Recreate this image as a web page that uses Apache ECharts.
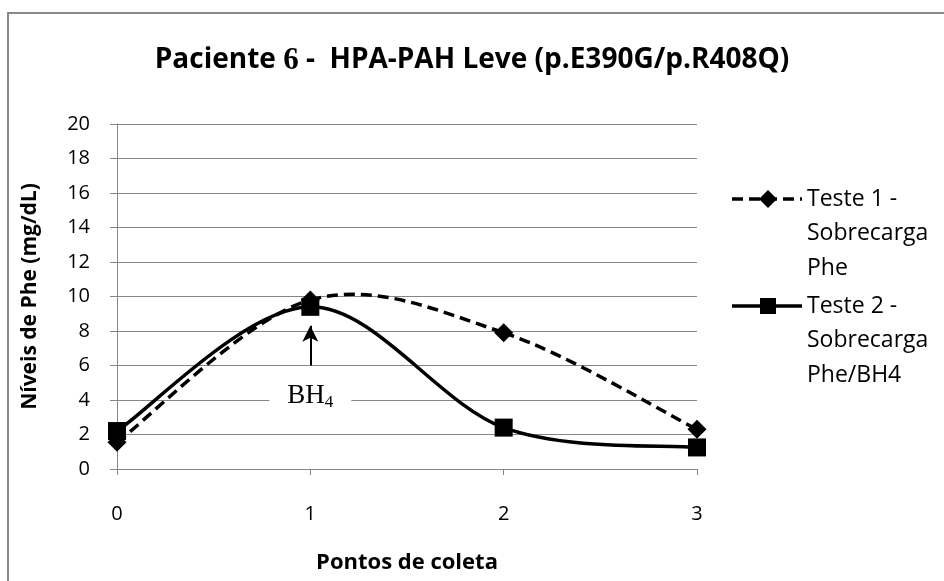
<!DOCTYPE html>
<html><head><meta charset="utf-8">
<script src="https://cdn.jsdelivr.net/npm/echarts@6/dist/echarts.min.js"></script>
<style>html,body{margin:0;padding:0;background:#fff}#c{width:944px;height:581px}</style>
</head><body><div id="c"></div>
<script>
const xPoints = [0, 1, 2, 3];
const teste1 = [1.55, 9.8, 7.9, 2.3];
const teste2 = [2.2, 9.4, 2.4, 1.25];
const yTicks = [0, 20, 2];
const seriesNames = ['Teste 1 - Sobrecarga Phe', 'Teste 2 - Sobrecarga Phe/BH4'];
const legendLines1 = ['Teste 1 -', 'Sobrecarga', 'Phe'];
const legendLines2 = ['Teste 2 -', 'Sobrecarga', 'Phe/BH4'];
const arrowFrom = [1, 6.0];
const arrowTo = [1, 8.3];
const bh4At = [1, 4.25];

const font = 'Open Sans';
const chart = echarts.init(document.getElementById('c'), null, {renderer: 'canvas'});

function pairs(vals) { return xPoints.map((x, i) => [x, vals[i]]); }

// Smoothed curve (Catmull-Rom style, as spreadsheet "smoothed line") drawn through the axes' coord system
function smoothRender(vals, dash) {
  return function (params, api) {
    const i = params.dataIndex;
    if (i >= vals.length - 1) return null;
    const P = k => [xPoints[Math.max(0, Math.min(vals.length - 1, k))], vals[Math.max(0, Math.min(vals.length - 1, k))]];
    const p0 = P(i - 1), p1 = P(i), p2 = P(i + 1), p3 = P(i + 2);
    const c1 = [p1[0] + (p2[0] - p0[0]) / 6, p1[1] + (p2[1] - p0[1]) / 6];
    const c2 = [p2[0] - (p3[0] - p1[0]) / 6, p2[1] - (p3[1] - p1[1]) / 6];
    const a = api.coord(p1), b = api.coord(c1), c = api.coord(c2), d = api.coord(p2);
    return {
      type: 'bezierCurve',
      shape: {x1: a[0], y1: a[1], cpx1: b[0], cpy1: b[1], cpx2: c[0], cpy2: c[1], x2: d[0], y2: d[1]},
      style: {stroke: '#000', lineWidth: 3.5, fill: null, lineDash: dash || null}
    };
  };
}

const legendText = (lines, y0) => lines.map((t, i) => ({
  type: 'text', x: 807, y: y0 + i * 34.5,
  style: {text: t, font: '23px "' + font + '"', fill: '#000', verticalAlign: 'middle', align: 'left'}
}));

chart.setOption({
  animation: false,
  backgroundColor: '#fff',
  title: {
    text: '{a|Paciente }{b|6}{a| -  HPA-PAH Leve (p.E390G/p.R408Q)}',
    left: 'center', top: 40,
    textStyle: {
      rich: {
        a: {fontFamily: font, fontWeight: 'bold', fontSize: 28, color: '#000'},
        b: {fontFamily: 'Liberation Serif', fontWeight: 'bold', fontSize: 31, color: '#000'}
      }
    }
  },
  grid: {left: 117, right: 247, top: 124, bottom: 112, containLabel: false},
  xAxis: {
    type: 'value', min: 0, max: 3, interval: 1,
    name: 'Pontos de coleta', nameLocation: 'middle', nameGap: 83,
    nameTextStyle: {fontFamily: font, fontWeight: 'bold', fontSize: 22, color: '#000'},
    axisLine: {show: true, lineStyle: {color: '#868686', width: 1}},
    axisTick: {show: true, length: 6, lineStyle: {color: '#868686'}},
    axisLabel: {fontFamily: font, fontSize: 20, color: '#000', margin: 35},
    splitLine: {show: false}
  },
  yAxis: {
    type: 'value', min: yTicks[0], max: yTicks[1], interval: yTicks[2],
    name: 'Níveis de Phe (mg/dL)', nameLocation: 'middle', nameGap: 76,
    nameTextStyle: {fontFamily: font, fontWeight: 'bold', fontSize: 21, color: '#000'},
    axisLine: {show: true, lineStyle: {color: '#868686', width: 1}},
    axisTick: {show: true, length: 7, lineStyle: {color: '#868686'}},
    axisLabel: {fontFamily: font, fontSize: 20, color: '#000', margin: 27},
    splitLine: {show: true, lineStyle: {color: '#868686', width: 1}}
  },
  series: [
    {
      name: seriesNames[0] + ' curve', type: 'custom', data: pairs(teste1),
      renderItem: smoothRender(teste1, [11, 6]), z: 3, silent: true
    },
    {
      name: seriesNames[1] + ' curve', type: 'custom', data: pairs(teste2),
      renderItem: smoothRender(teste2, null), z: 4, silent: true
    },
    {
      name: seriesNames[0], type: 'line', data: pairs(teste1),
      symbol: 'diamond', symbolSize: [19, 19],
      lineStyle: {opacity: 0, width: 0},
      itemStyle: {color: '#000'}, z: 5
    },
    {
      name: seriesNames[1], type: 'line', data: pairs(teste2),
      symbol: 'rect', symbolSize: 18,
      lineStyle: {opacity: 0, width: 0},
      itemStyle: {color: '#000'}, z: 6,
      markLine: {
        silent: true, symbol: ['none', 'arrow'], symbolSize: [12, 16],
        lineStyle: {color: '#000', width: 2, type: 'solid', opacity: 1},
        label: {show: false},
        data: [[{coord: arrowFrom}, {coord: arrowTo}]]
      },
      markPoint: {
        silent: true, symbol: 'circle', symbolSize: 1,
        itemStyle: {color: 'rgba(0,0,0,0)'},
        label: {
          show: true, position: 'inside',
          formatter: '{m|BH}{s|4}',
          backgroundColor: '#fff', padding: [2, 18, 2, 18],
          rich: {
            m: {fontFamily: 'Liberation Serif', fontSize: 27, color: '#000'},
            s: {fontFamily: 'Liberation Serif', fontSize: 17, color: '#000', padding: [13, 0, 0, 0]}
          }
        },
        data: [{coord: bh4At}]
      }
    }
  ],
  graphic: [
    {type: 'rect', shape: {x: 8, y: 13, width: 960, height: 600}, style: {fill: 'none', stroke: '#898989', lineWidth: 2}, silent: true},
    {type: 'line', shape: {x1: 732, y1: 199, x2: 802, y2: 199}, style: {stroke: '#000', lineWidth: 3.5, lineDash: [11, 6]}},
    {type: 'polygon', shape: {points: [[768, 190], [777, 199], [768, 208], [759, 199]]}, style: {fill: '#000'}},
    {type: 'line', shape: {x1: 732, y1: 306, x2: 802, y2: 306}, style: {stroke: '#000', lineWidth: 3.5}},
    {type: 'rect', shape: {x: 760, y: 298, width: 16, height: 16}, style: {fill: '#000'}},
    ...legendText(legendLines1, 199),
    ...legendText(legendLines2, 306)
  ]
});
</script></body></html>
